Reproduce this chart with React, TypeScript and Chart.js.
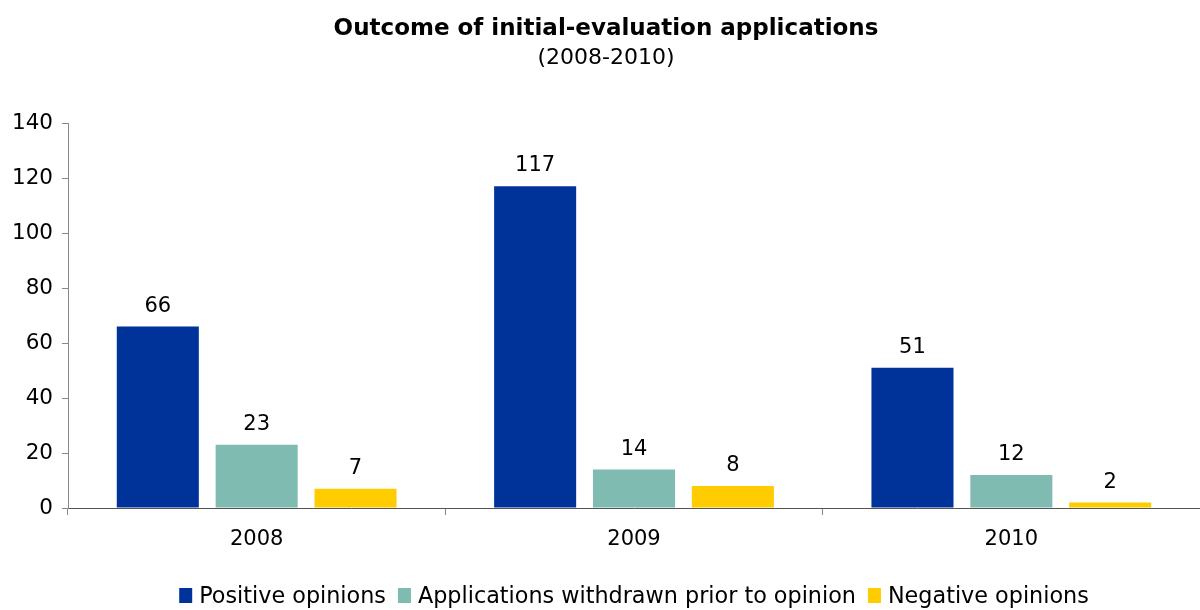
import React, { useEffect, useRef } from "react";
import { Chart, registerables } from "chart.js";

Chart.register(...registerables);

const categories = ["2008", "2009", "2010"];
const positiveOpinions = [66, 117, 51];
const withdrawnPrior = [23, 14, 12];
const negativeOpinions = [7, 8, 2];
const seriesNames = [
  "Positive opinions",
  "Applications withdrawn prior to opinion",
  "Negative opinions",
];
const seriesColors = ["#003399", "#7FBBB1", "#FFCC00"];
const titleText = "Outcome of initial-evaluation applications";
const subtitleText = "(2008-2010)";

const FONT = "'DejaVu Sans', Verdana, sans-serif";

export default function App() {
  const ref = useRef<HTMLCanvasElement>(null);

  useEffect(() => {
    const canvas = ref.current!;
    const decor = {
      id: "decor",
      afterDatasetsDraw(chart: any) {
        const ctx = chart.ctx;
        ctx.save();
        ctx.fillStyle = "#000";
        ctx.font = `21px ${FONT}`;
        ctx.textAlign = "center";
        ctx.textBaseline = "alphabetic";
        chart.data.datasets.forEach((ds: any, i: number) => {
          const meta = chart.getDatasetMeta(i);
          meta.data.forEach((el: any, j: number) => {
            ctx.fillText(String(ds.data[j]), el.x, el.y - 15);
          });
        });
        ctx.restore();
      },
      afterDraw(chart: any) {
        const ctx = chart.ctx;
        const area = chart.chartArea;
        ctx.save();
        ctx.fillStyle = "#000";
        ctx.textAlign = "center";
        ctx.textBaseline = "alphabetic";
        ctx.font = `bold 23px ${FONT}`;
        ctx.fillText(titleText, 606, 35);
        ctx.font = `22px ${FONT}`;
        ctx.fillText(subtitleText, 606, 64);

        // legend
        ctx.font = `22.3px ${FONT}`;
        const boxW = 13;
        const boxH = 15;
        const gapText = 7;
        const gapItem = 12;
        const widths = seriesNames.map((n) => ctx.measureText(n).width);
        let total = 0;
        widths.forEach((w, i) => {
          total += boxW + gapText + w + (i < widths.length - 1 ? gapItem : 0);
        });
        let x = (area.left + area.right) / 2 - total / 2;
        const baseY = 603;
        ctx.textAlign = "left";
        seriesNames.forEach((n, i) => {
          ctx.fillStyle = seriesColors[i];
          ctx.fillRect(x, baseY - boxH, boxW, boxH);
          x += boxW + gapText;
          ctx.fillStyle = "#000";
          ctx.fillText(n, x, baseY);
          x += widths[i] + gapItem;
        });
        ctx.restore();
      },
    };

    const chart = new Chart(canvas, {
      type: "bar",
      data: {
        labels: categories,
        datasets: [
          { label: seriesNames[0], data: positiveOpinions, backgroundColor: seriesColors[0], borderWidth: 0 },
          { label: seriesNames[1], data: withdrawnPrior, backgroundColor: seriesColors[1], borderWidth: 0 },
          { label: seriesNames[2], data: negativeOpinions, backgroundColor: seriesColors[2], borderWidth: 0 },
        ],
      },
      options: {
        responsive: false,
        animation: false,
        events: [],
        datasets: {
          bar: { categoryPercentage: 0.786, barPercentage: 0.83 },
        },
        layout: { padding: { top: 123, left: 0, right: 0, bottom: 50 } },
        plugins: {
          legend: { display: false },
          title: { display: false },
          tooltip: { enabled: false },
        },
        scales: {
          x: {
            offset: true,
            grid: {
              display: true,
              drawOnChartArea: false,
              drawTicks: true,
              tickLength: 7,
              color: "#888888",
              offset: true,
            },
            border: { display: true, color: "#555555", width: 1 },
            ticks: {
              color: "#000",
              font: { family: FONT, size: 21 },
              padding: 12,
              maxRotation: 0,
            },
            afterFit(scale: any) {
              scale.height = 52;
            },
          },
          y: {
            min: 0,
            max: 140,
            ticks: {
              stepSize: 20,
              color: "#000",
              font: { family: FONT, size: 21.5 },
              padding: 9,
            },
            grid: {
              display: true,
              drawOnChartArea: false,
              drawTicks: true,
              tickLength: 6,
              color: "#888888",
            },
            border: { display: true, color: "#888888", width: 1 },
            afterFit(scale: any) {
              scale.width = 68;
            },
          },
        },
      },
      plugins: [decor],
    });
    return () => chart.destroy();
  }, []);

  return (
    <div style={{ position: "absolute", left: 0, top: 0, width: 1200, height: 610, background: "#fff" }}>
      <canvas ref={ref} width={1200} height={610} style={{ display: "block" }} />
    </div>
  );
}
